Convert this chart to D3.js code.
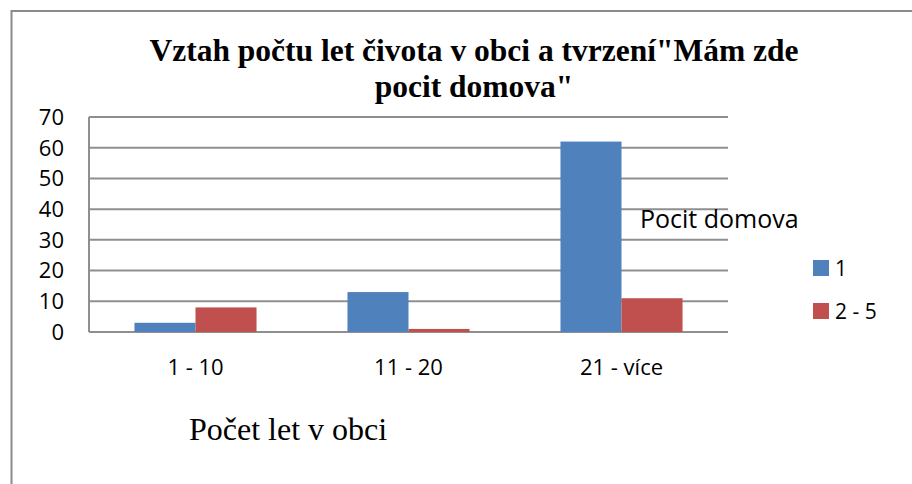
<!DOCTYPE html>
<html>
<head>
<meta charset="utf-8">
<script src="https://cdn.jsdelivr.net/npm/d3@7"></script>
<style>
  html, body { margin: 0; padding: 0; background: #fff; }
  svg { display: block; }
</style>
</head>
<body>
<svg id="chart" width="912" height="484"></svg>
<script>
// Bydliště v obci (roky) vs. "Mám zde pocit domova"
const categories = ["1 - 10", "11 - 20", "21 - více"];
const seriesNames = ["1", "2 - 5"];
const seriesOne = [3, 13, 62];
const seriesTwoFive = [8, 1, 11];
const yTicks = [0, 10, 20, 30, 40, 50, 60, 70];
const titleLines = ["Vztah počtu let čivota v obci a tvrzení\"Mám zde", "pocit domova\""];
const legendTitle = "Pocit domova";
const xAxisTitle = "Počet let v obci";

const colors = ["#4F81BD", "#C0504D"];
const series = [seriesOne, seriesTwoFive];

const svg = d3.select("#chart");
const W = 912, H = 484;
const plot = { left: 89, right: 728, top: 117, bottom: 332 };

// outer frame (only left and top edges fall inside the canvas)
svg.append("path")
  .attr("d", `M11.5,${H} V11 H${W}`)
  .attr("fill", "none")
  .attr("stroke", "#8a8a8a")
  .attr("stroke-width", 2);

const x0 = d3.scaleBand()
  .domain(categories)
  .range([plot.left, plot.right])
  .paddingInner(0.427)
  .paddingOuter(0.2135);

const x1 = d3.scaleBand()
  .domain(seriesNames)
  .range([0, x0.bandwidth()]);

const y = d3.scaleLinear()
  .domain([0, 70])
  .range([plot.bottom, plot.top]);

// gridlines
svg.append("g")
  .selectAll("line")
  .data(yTicks)
  .join("line")
  .attr("x1", plot.left)
  .attr("x2", plot.right)
  .attr("y1", d => y(d))
  .attr("y2", d => y(d))
  .attr("stroke", "#8f8f8f")
  .attr("stroke-width", 2);

// left plot edge
svg.append("line")
  .attr("x1", plot.left).attr("x2", plot.left)
  .attr("y1", y(70)).attr("y2", y(0))
  .attr("stroke", "#8f8f8f")
  .attr("stroke-width", 2);

// y tick labels
svg.append("g")
  .selectAll("text")
  .data(yTicks)
  .join("text")
  .attr("x", 64)
  .attr("y", d => y(d))
  .attr("dy", "0.36em")
  .attr("text-anchor", "end")
  .attr("font-family", "Open Sans, sans-serif")
  .attr("font-size", 22)
  .attr("fill", "#000")
  .text(d => d);

// bars
const groups = svg.append("g")
  .selectAll("g")
  .data(categories)
  .join("g")
  .attr("transform", d => `translate(${x0(d)},0)`);

groups.selectAll("rect")
  .data((c, i) => seriesNames.map((s, j) => ({ s, v: series[j][i], j })))
  .join("rect")
  .attr("x", d => x1(d.s))
  .attr("width", x1.bandwidth())
  .attr("y", d => y(d.v))
  .attr("height", d => y(0) - y(d.v))
  .attr("fill", d => colors[d.j]);

// category labels
svg.append("g")
  .selectAll("text")
  .data(categories)
  .join("text")
  .attr("x", d => x0(d) + x0.bandwidth() / 2)
  .attr("y", 375)
  .attr("text-anchor", "middle")
  .attr("font-family", "Open Sans, sans-serif")
  .attr("font-size", 22)
  .attr("fill", "#000")
  .text(d => d);

// title
svg.append("g")
  .selectAll("text")
  .data(titleLines)
  .join("text")
  .attr("x", 474)
  .attr("y", (d, i) => 61 + i * 36)
  .attr("text-anchor", "middle")
  .attr("font-family", "Liberation Serif, Times New Roman, serif")
  .attr("font-weight", "bold")
  .attr("font-size", 31.5)
  .attr("fill", "#000")
  .text(d => d);

// x axis title
svg.append("text")
  .attr("x", 189)
  .attr("y", 440)
  .attr("font-family", "Liberation Serif, Times New Roman, serif")
  .attr("font-size", 32)
  .attr("fill", "#000")
  .text(xAxisTitle);

// legend
svg.append("text")
  .attr("x", 640)
  .attr("y", 228)
  .attr("font-family", "Open Sans, sans-serif")
  .attr("font-size", 25)
  .attr("fill", "#000")
  .text(legendTitle);

const legend = svg.append("g")
  .selectAll("g")
  .data(seriesNames)
  .join("g")
  .attr("transform", (d, i) => `translate(813,${260 + i * 43})`);

legend.append("rect")
  .attr("width", 16)
  .attr("height", 16)
  .attr("fill", (d, i) => colors[i]);

legend.append("text")
  .attr("x", 22)
  .attr("y", 16)
  .attr("font-family", "Open Sans, sans-serif")
  .attr("font-size", 21)
  .attr("fill", "#000")
  .text(d => d);
</script>
</body>
</html>
